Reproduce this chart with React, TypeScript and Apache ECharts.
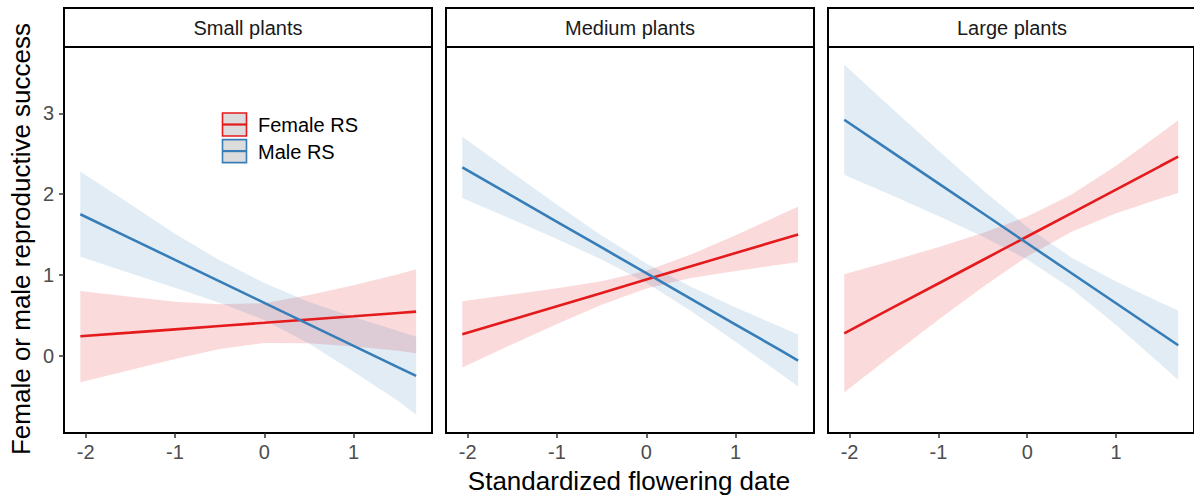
import React, { useEffect, useRef } from 'react';
import * as echarts from 'echarts';

// x positions (standardized flowering date) where fits / bands are read
const XS = [-2.06, -1.5, -1, -0.5, 0, 0.5, 1, 1.5, 1.7];

const panelTitles = ['Small plants', 'Medium plants', 'Large plants'];
const xTicks = [-2, -1, 0, 1];
const yTicks = [0, 1, 2, 3];

// Small plants
const smallFemale = [0.24, 0.285, 0.326, 0.367, 0.407, 0.448, 0.488, 0.529, 0.545];
const smallFemaleLo = [-0.33, -0.177, -0.04, 0.083, 0.157, 0.153, 0.114, 0.06, 0.03];
const smallFemaleHi = [0.8, 0.73, 0.668, 0.637, 0.65, 0.75, 0.87, 1.007, 1.07];
const smallMale = [1.75, 1.452, 1.186, 0.92, 0.654, 0.388, 0.122, -0.144, -0.25];
const smallMaleLo = [1.225, 1.02, 0.84, 0.656, 0.44, 0.15, -0.2, -0.56, -0.73];
const smallMaleHi = [2.278, 1.874, 1.51, 1.18, 0.9, 0.665, 0.48, 0.306, 0.235];

// Medium plants
const medFemale = [0.265, 0.449, 0.613, 0.776, 0.942, 1.106, 1.27, 1.435, 1.5];
const medFemaleLo = [-0.145, 0.141, 0.392, 0.63, 0.832, 0.96, 1.049, 1.127, 1.156];
const medFemaleHi = [0.675, 0.757, 0.834, 0.922, 1.052, 1.252, 1.491, 1.743, 1.844];
const medMale = [2.33, 1.974, 1.656, 1.339, 1.021, 0.703, 0.385, 0.068, -0.06];
const medMaleLo = [1.95, 1.685, 1.444, 1.19, 0.901, 0.554, 0.173, -0.221, -0.381];
const medMaleHi = [2.71, 2.263, 1.868, 1.488, 1.141, 0.852, 0.597, 0.357, 0.261];

// Large plants
const largeFemale = [0.277, 0.603, 0.893, 1.184, 1.475, 1.765, 2.056, 2.347, 2.463];
const largeFemaleLo = [-0.453, 0.024, 0.443, 0.85, 1.227, 1.534, 1.762, 1.946, 2.013];
const largeFemaleHi = [1.007, 1.182, 1.343, 1.518, 1.723, 1.996, 2.35, 2.748, 2.913];
const largeMale = [2.92, 2.504, 2.133, 1.762, 1.391, 1.02, 0.649, 0.278, 0.129];
const largeMaleLo = [2.24, 1.972, 1.728, 1.474, 1.189, 0.827, 0.381, -0.102, -0.301];
const largeMaleHi = [3.6, 3.036, 2.538, 2.05, 1.593, 1.213, 0.917, 0.658, 0.559];

const legendLabels = ['Female RS', 'Male RS'];

const RED = '#E41A1C';
const BLUE = '#377EB8';
const RED_FILL = 'rgba(228,26,28,0.16)';
const BLUE_FILL = 'rgba(55,126,184,0.15)';
const FONT = "'Liberation Sans', Arial, sans-serif";

const GRID_LEFT = [64, 446, 828];
const GRID_TOP = 47;
const GRID_W = 368;
const GRID_H = 386;

export default function App() {
  const ref = useRef<HTMLDivElement>(null);

  useEffect(() => {
    document.body.style.margin = '0';
    const chart = echarts.init(ref.current as HTMLDivElement, null, { renderer: 'svg' });

    const panels = [
      { f: smallFemale, fLo: smallFemaleLo, fHi: smallFemaleHi, m: smallMale, mLo: smallMaleLo, mHi: smallMaleHi },
      { f: medFemale, fLo: medFemaleLo, fHi: medFemaleHi, m: medMale, mLo: medMaleLo, mHi: medMaleHi },
      { f: largeFemale, fLo: largeFemaleLo, fHi: largeFemaleHi, m: largeMale, mLo: largeMaleLo, mHi: largeMaleHi },
    ];

    const ribbon = (gi: number, lo: number[], hi: number[], fill: string, z: number) => ({
      type: 'custom',
      xAxisIndex: gi,
      yAxisIndex: gi,
      silent: true,
      z,
      clip: true,
      data: XS.map((x, j) => [x, lo[j], hi[j]]),
      encode: { x: 0, y: [1, 2] },
      renderItem: (params: any, api: any) => {
        if (params.dataIndexInside !== 0) return null;
        const n = XS.length;
        const top: number[][] = [];
        const bot: number[][] = [];
        for (let k = 0; k < n; k++) {
          top.push(api.coord([api.value(0, k), api.value(2, k)]));
          bot.push(api.coord([api.value(0, k), api.value(1, k)]));
        }
        return {
          type: 'polygon',
          shape: { points: top.concat(bot.reverse()) },
          style: { fill, stroke: null },
        };
      },
    });

    const fitLine = (gi: number, vals: number[], color: string, z: number) => ({
      type: 'line',
      xAxisIndex: gi,
      yAxisIndex: gi,
      silent: true,
      z,
      symbol: 'none',
      showSymbol: false,
      data: XS.map((x, j) => [x, vals[j]]),
      lineStyle: { color, width: 2.6 },
    });

    const series: any[] = [];
    panels.forEach((p, i) => {
      series.push(ribbon(i, p.fLo, p.fHi, RED_FILL, 1));
      series.push(ribbon(i, p.mLo, p.mHi, BLUE_FILL, 2));
      series.push(fitLine(i, p.f, RED, 3));
      series.push(fitLine(i, p.m, BLUE, 4));
    });

    const grids = GRID_LEFT.map((l) => ({
      left: l,
      top: GRID_TOP,
      width: GRID_W,
      height: GRID_H,
      show: true,
      borderColor: '#000',
      borderWidth: 2,
      backgroundColor: 'transparent',
    }));

    const xAxes = GRID_LEFT.map((_, i) => ({
      type: 'value',
      gridIndex: i,
      min: -2.243,
      max: 1.878,
      splitLine: { show: false },
      axisLine: { show: true, onZero: false, lineStyle: { color: '#000', width: 2 } },
      axisTick: { show: true, length: 5, customValues: xTicks, lineStyle: { color: '#333', width: 1.5 } },
      axisLabel: {
        show: true,
        customValues: xTicks,
        margin: 9,
        color: '#4D4D4D',
        fontSize: 20,
        fontFamily: FONT,
      },
    }));

    const yAxes = GRID_LEFT.map((_, i) => ({
      type: 'value',
      gridIndex: i,
      min: -0.957,
      max: 3.82,
      splitLine: { show: false },
      axisLine: { show: true, onZero: false, lineStyle: { color: '#000', width: 2 } },
      axisTick: { show: i === 0, length: 5, customValues: yTicks, lineStyle: { color: '#333', width: 1.5 } },
      axisLabel: {
        show: i === 0,
        customValues: yTicks,
        margin: 10,
        color: '#4D4D4D',
        fontSize: 20,
        fontFamily: FONT,
      },
    }));

    const graphics: any[] = [];
    GRID_LEFT.forEach((l, i) => {
      graphics.push({
        type: 'rect',
        shape: { x: l, y: 8, width: GRID_W, height: GRID_TOP - 8 },
        style: { fill: '#fff', stroke: '#000', lineWidth: 2 },
        z: 10,
      });
      graphics.push({
        type: 'text',
        x: l + GRID_W / 2,
        y: 28,
        style: {
          text: panelTitles[i],
          fill: '#1A1A1A',
          fontSize: 20,
          fontFamily: FONT,
          align: 'center',
          verticalAlign: 'middle',
        },
        z: 11,
      });
    });

    // legend (inside first panel)
    const legendColors = [RED, BLUE];
    legendLabels.forEach((lab, i) => {
      const y0 = 113 + i * 26.6;
      graphics.push({
        type: 'rect',
        shape: { x: 222.5, y: y0, width: 24, height: 23 },
        style: { fill: '#DCDCDC', stroke: legendColors[i], lineWidth: 1.6 },
        z: 12,
      });
      graphics.push({
        type: 'line',
        shape: { x1: 222.5, y1: y0 + 11.5, x2: 246.5, y2: y0 + 11.5 },
        style: { stroke: legendColors[i], lineWidth: 2.2 },
        z: 13,
      });
      graphics.push({
        type: 'text',
        x: 258,
        y: y0 + 12,
        style: {
          text: lab,
          fill: '#000',
          fontSize: 20,
          fontFamily: FONT,
          align: 'left',
          verticalAlign: 'middle',
        },
        z: 13,
      });
    });

    // axis titles
    graphics.push({
      type: 'text',
      x: 629,
      y: 481,
      style: {
        text: 'Standardized flowering date',
        fill: '#000',
        fontSize: 26,
        fontFamily: FONT,
        align: 'center',
        verticalAlign: 'middle',
      },
      z: 12,
    });
    graphics.push({
      type: 'text',
      x: 21,
      y: 239,
      rotation: Math.PI / 2,
      style: {
        text: 'Female or male reproductive success',
        fill: '#000',
        fontSize: 26,
        fontFamily: FONT,
        align: 'center',
        verticalAlign: 'middle',
      },
      z: 12,
    });

    chart.setOption({
      animation: false,
      backgroundColor: '#fff',
      grid: grids,
      xAxis: xAxes,
      yAxis: yAxes,
      series,
      graphic: graphics,
    });

    return () => chart.dispose();
  }, []);

  return <div ref={ref} style={{ width: 1194, height: 498 }} />;
}
